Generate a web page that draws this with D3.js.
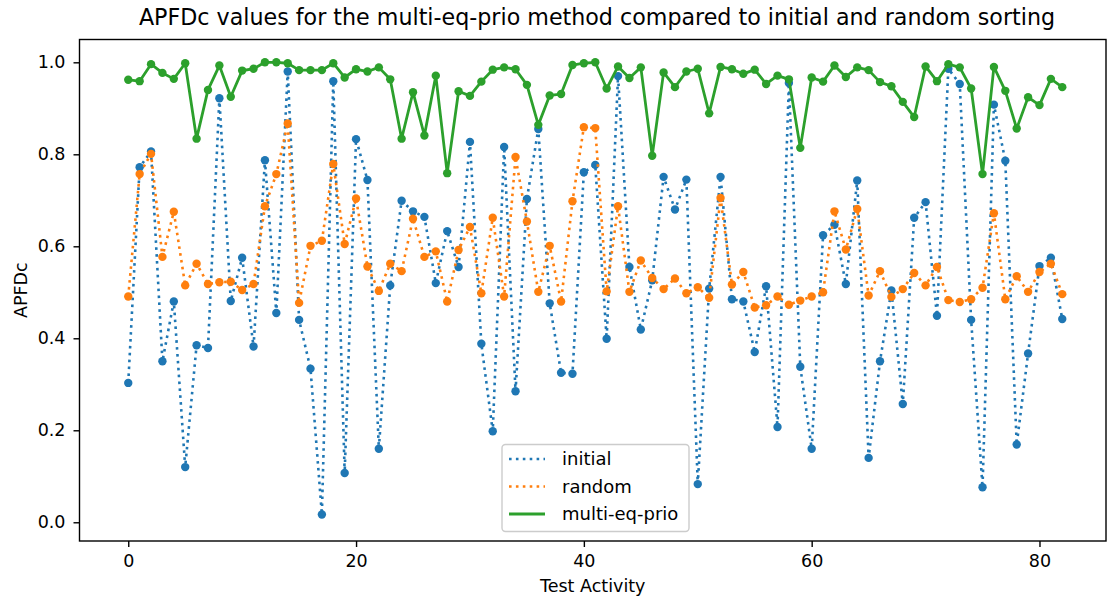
<!DOCTYPE html>
<html><head><meta charset="utf-8">
<script src="https://cdn.jsdelivr.net/npm/d3@7"></script>
<style>body{margin:0;background:#fff} svg{display:block} text{font-family:"DejaVu Sans",sans-serif;fill:#000}</style>
</head><body><svg id="c" width="1108" height="598"></svg>
<script>
const initial=[0.303,0.772,0.806,0.350,0.480,0.120,0.385,0.379,0.922,0.481,0.575,0.382,0.787,0.455,0.980,0.440,0.334,0.017,0.959,0.107,
0.833,0.744,0.160,0.515,0.699,0.676,0.664,0.520,0.633,0.555,0.827,0.388,0.198,0.816,0.285,0.703,0.855,0.476,0.325,0.323,
0.761,0.777,0.399,0.970,0.555,0.419,0.526,0.751,0.680,0.745,0.083,0.508,0.751,0.485,0.480,0.370,0.513,0.207,0.955,0.338,
0.160,0.624,0.647,0.518,0.743,0.140,0.350,0.504,0.257,0.662,0.696,0.449,0.986,0.953,0.440,0.076,0.908,0.786,0.169,0.367,
0.557,0.575,0.442];
const random=[0.491,0.757,0.801,0.577,0.675,0.515,0.562,0.518,0.522,0.523,0.505,0.518,0.687,0.757,0.867,0.477,0.601,0.612,0.779,0.605,
0.704,0.556,0.503,0.562,0.546,0.660,0.577,0.589,0.480,0.592,0.642,0.498,0.662,0.491,0.794,0.654,0.501,0.601,0.480,0.698,
0.859,0.857,0.502,0.687,0.501,0.569,0.531,0.507,0.530,0.498,0.511,0.488,0.705,0.517,0.544,0.467,0.472,0.491,0.473,0.482,
0.491,0.500,0.676,0.593,0.681,0.493,0.546,0.490,0.507,0.542,0.515,0.555,0.483,0.479,0.485,0.510,0.672,0.485,0.535,0.501,
0.544,0.562,0.496];
const multiEqPrio=[0.962,0.959,0.996,0.977,0.964,0.998,0.834,0.940,0.993,0.925,0.982,0.986,1.000,1.000,0.998,0.983,0.983,0.983,0.998,0.967,
0.985,0.980,0.989,0.963,0.834,0.935,0.841,0.971,0.759,0.937,0.927,0.958,0.984,0.989,0.985,0.951,0.864,0.928,0.931,0.994,
0.998,1.000,0.943,0.991,0.966,0.989,0.797,0.978,0.946,0.980,0.986,0.889,0.990,0.985,0.975,0.984,0.953,0.971,0.963,0.814,
0.967,0.958,0.993,0.968,0.989,0.983,0.957,0.948,0.914,0.881,0.991,0.959,0.996,0.989,0.943,0.757,0.990,0.938,0.856,0.924,
0.907,0.964,0.946];
const seriesNames=["initial","random","multi-eq-prio"];
const xTicks=[0,20,40,60,80];
const yTicks=[0.0,0.2,0.4,0.6,0.8,1.0];
const titleText="APFDc values for the multi-eq-prio method compared to initial and random sorting";
const xLabel="Test Activity", yLabel="APFDc";

const colors=["#1f77b4","#ff7f0e","#2ca02c"];
const dashes=["2.6 4.3","2.6 4.3",null];
const lw=[2.6,2.6,2.8];
const FS=17.5;
const m={left:79.5,right:1106,top:39.5,bottom:541};
const svg=d3.select("#c");
const x=d3.scaleLinear().domain([-4.28,85.84]).range([m.left,m.right]);
const y=d3.scaleLinear().domain([-0.0407,1.0496]).range([m.bottom,m.top]);

svg.append("defs").append("clipPath").attr("id","clip").append("rect")
  .attr("x",m.left).attr("y",m.top).attr("width",m.right-m.left).attr("height",m.bottom-m.top);

const plot=svg.append("g").attr("clip-path","url(#clip)");
const allSeries=[initial,random,multiEqPrio];
const line=d3.line().x((d,i)=>x(i)).y(d=>y(d));
allSeries.forEach((s,k)=>{
  plot.append("path").datum(s).attr("d",line).attr("fill","none")
    .attr("stroke",colors[k]).attr("stroke-width",lw[k])
    .attr("stroke-dasharray",dashes[k]).attr("stroke-linejoin","round");
  plot.append("g").selectAll("circle").data(s).join("circle")
    .attr("cx",(d,i)=>x(i)).attr("cy",d=>y(d)).attr("r",4.2).attr("fill",colors[k]);
});

// axes
const xa=svg.append("g").attr("transform",`translate(0,${m.bottom})`)
  .call(d3.axisBottom(x).tickValues(xTicks).tickSize(6).tickPadding(8).tickFormat(d3.format("d")));
const ya=svg.append("g").attr("transform",`translate(${m.left},0)`)
  .call(d3.axisLeft(y).tickValues(yTicks).tickSize(6).tickPadding(8).tickFormat(d3.format(".1f")));
[xa,ya].forEach(a=>{
  a.select(".domain").remove();
  a.selectAll(".tick line").attr("stroke","#000").attr("stroke-width",1.4);
  a.selectAll(".tick text").attr("font-size",FS).attr("font-family","DejaVu Sans").attr("fill","#000");
});
svg.append("rect").attr("x",m.left).attr("y",m.top).attr("width",m.right-m.left).attr("height",m.bottom-m.top)
  .attr("fill","none").attr("stroke","#000").attr("stroke-width",1.4);

// labels
svg.append("text").attr("x",597).attr("y",25).attr("text-anchor","middle")
  .attr("font-size",22.2).text(titleText);
svg.append("text").attr("x",(m.left+m.right)/2).attr("y",592).attr("text-anchor","middle")
  .attr("font-size",FS).text(xLabel);
svg.append("text").attr("transform",`translate(27,${(m.top+m.bottom)/2}) rotate(-90)`).attr("text-anchor","middle")
  .attr("font-size",FS).text(yLabel);

// legend
const lg=svg.append("g");
lg.append("rect").attr("x",502).attr("y",444.5).attr("width",187).attr("height",87).attr("rx",3.5)
  .attr("fill","#fff").attr("fill-opacity",0.8).attr("stroke","#cccccc").attr("stroke-width",1.4);
seriesNames.forEach((n,k)=>{
  const yy=459+k*27.5;
  lg.append("line").attr("x1",509).attr("x2",545).attr("y1",yy).attr("y2",yy)
    .attr("stroke",colors[k]).attr("stroke-width",lw[k]).attr("stroke-dasharray",dashes[k]);
  lg.append("text").attr("x",562).attr("y",yy).attr("dy","0.36em").attr("font-size",18).text(n);
});
</script></body></html>
